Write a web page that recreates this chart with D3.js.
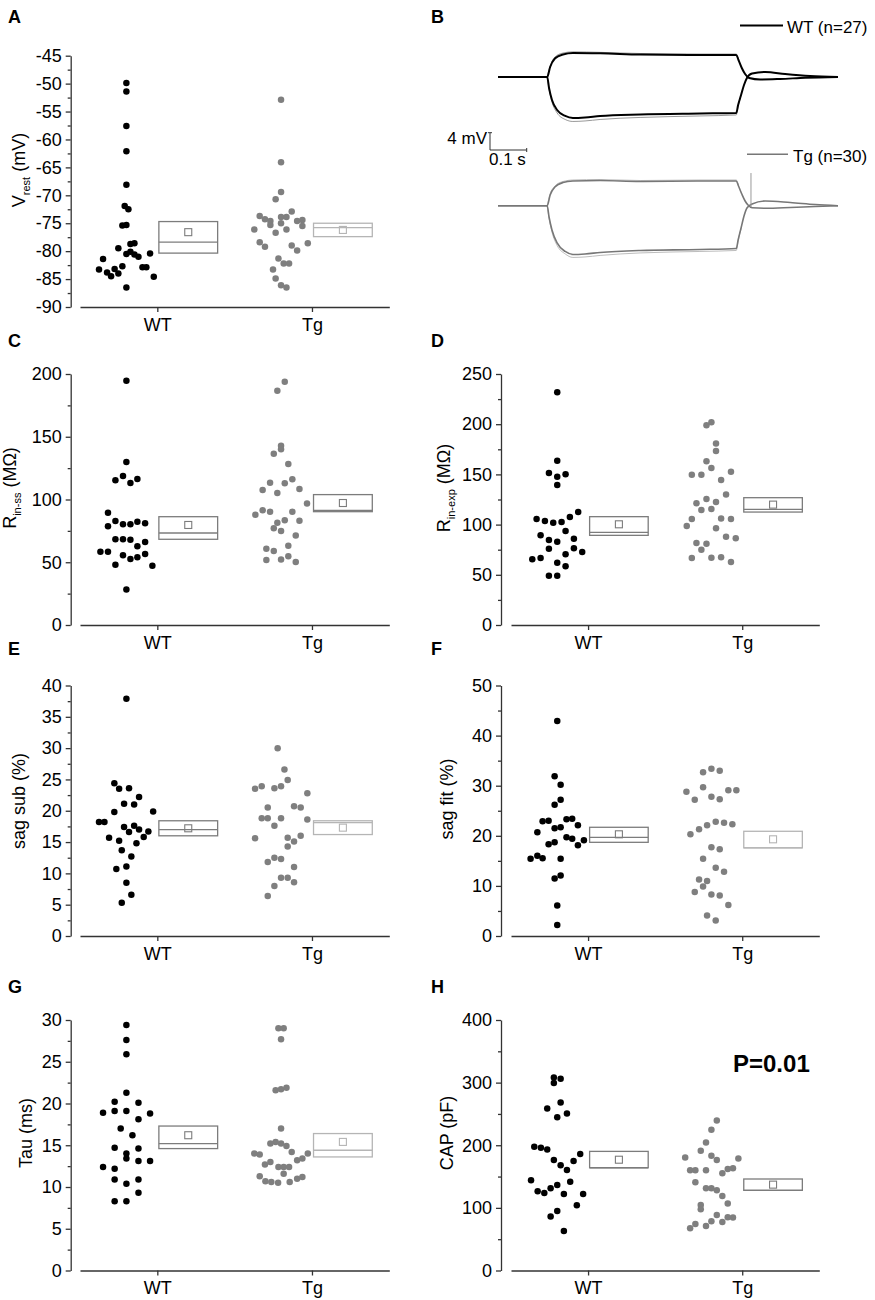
<!DOCTYPE html>
<html><head><meta charset="utf-8">
<script src="https://cdn.jsdelivr.net/npm/d3@7"></script>
<style>body{margin:0;background:#fff}svg{display:block;font-family:"Liberation Sans",Arial,sans-serif}</style>
</head><body><svg id="c" width="875" height="1300"></svg>
<script>
// ---------------- data ----------------
const groups = ["WT", "Tg"];
// dot data: [offset on category axis, value]
const aWT = [[0,-49.9],[0,-51.4],[0,-57.6],[0,-62.1],[0,-68.1],[-0.011,-71.9],[0.013,-72.5],[-0.026,-75.4],[0,-75.3],[-0.052,-79.5],[0.026,-78.7],[0.052,-78.6],[0,-80.5],[0.026,-80.1],[0.052,-80.6],[0.078,-81.0],[0.153,-80.4],[-0.151,-81.4],[-0.026,-82.7],[0.104,-82.9],[0.129,-82.9],[-0.177,-83.3],[-0.125,-83.8],[-0.076,-83.2],[-0.099,-84.5],[-0.052,-84.0],[0.177,-84.6],[0,-86.5]];
const aTg = [[0,-52.9],[0,-64.1],[0,-69.4],[-0.035,-70.7],[0.069,-72.9],[-0.138,-73.7],[-0.104,-74.3],[-0.069,-74.6],[0,-73.9],[0.035,-73.9],[0.104,-74.6],[0.138,-74.4],[-0.069,-75.3],[0,-75.0],[0.138,-75.5],[-0.173,-76.1],[0.035,-76.1],[-0.035,-76.7],[-0.138,-78.4],[-0.104,-79.2],[0.069,-79.0],[0.173,-78.6],[0.104,-79.9],[-0.017,-81.3],[0.017,-82.2],[0.052,-82.2],[-0.052,-83.3],[-0.035,-84.9],[0,-86.1],[0.035,-86.5]];
const cWT = [[0,194.7],[0,129.9],[-0.071,115.3],[-0.022,118.7],[0.026,113.1],[0.071,116.3],[-0.119,89.5],[-0.071,82.9],[-0.119,78.6],[-0.022,80.2],[0.026,80.2],[0.071,82.3],[0.121,81.0],[-0.071,68.3],[-0.022,68.3],[0.026,68.0],[0.071,62.7],[0.121,66.1],[-0.168,58.4],[-0.119,58.4],[-0.022,55.5],[0.026,52.6],[0.071,53.9],[0.121,56.6],[-0.071,48.1],[0.168,47.3],[0,28.2]];
const cTg = [[0.024,193.9],[-0.024,186.7],[0,142.9],[0,140.0],[-0.047,136.5],[0.047,128.3],[0.073,116.1],[-0.071,113.4],[0.024,112.9],[-0.119,107.6],[0.119,108.4],[-0.024,105.2],[0.168,96.9],[-0.166,87.9],[-0.119,91.4],[-0.071,90.3],[0.073,90.3],[-0.024,81.5],[0.024,83.4],[0.119,83.1],[-0.047,77.0],[0,74.9],[0.095,71.4],[-0.095,60.8],[-0.047,59.0],[0.047,63.2],[-0.095,51.8],[0,52.1],[0.047,54.7],[0.095,50.2]];
const dWT = [[0,231.7],[0,163.7],[-0.054,151.4],[0,147.7],[0.054,150.1],[0,139.4],[-0.134,105.6],[-0.080,103.6],[-0.026,101.9],[0.028,102.6],[0.082,107.6],[0.136,112.5],[-0.108,89.3],[0.054,93.6],[-0.054,84.7],[0,83.0],[0.108,86.0],[-0.054,76.0],[0.108,76.4],[0.162,72.7],[-0.162,65.4],[-0.108,66.7],[0,62.1],[0.054,70.4],[0.054,58.4],[-0.054,49.1],[0,49.1]];
const dTg = [[-0.032,198.9],[0,201.9],[0.030,180.9],[0.030,173.3],[-0.032,163.0],[0,156.4],[-0.127,149.7],[-0.065,149.7],[0.127,152.7],[0.063,144.4],[0.095,130.1],[-0.032,125.5],[-0.097,121.2],[0.030,122.5],[-0.065,114.5],[0,115.5],[-0.127,105.6],[0.063,106.2],[0.127,105.6],[-0.160,98.6],[0.030,96.3],[0.095,88.0],[0.158,86.3],[-0.097,81.7],[-0.032,81.0],[-0.065,75.0],[-0.127,66.7],[0,67.1],[0.063,67.4],[0.127,62.7]];
const eWT = [[0,37.9],[-0.078,24.4],[-0.047,23.5],[0.017,23.6],[0.082,22.2],[-0.015,21.1],[0.050,21.0],[-0.078,19.8],[0.173,19.9],[-0.177,18.2],[-0.142,18.2],[-0.015,17.4],[0.050,17.6],[0.017,16.6],[0.082,17.0],[0.142,16.7],[-0.112,15.7],[-0.047,15.2],[0.065,14.8],[0.112,15.8],[-0.030,13.7],[0.032,12.7],[-0.065,10.7],[0,11.1],[0,8.5],[0.032,6.6],[-0.030,5.3]];
const eTg = [[-0.022,30.0],[0.022,26.6],[0.043,24.9],[-0.168,23.5],[-0.125,23.9],[-0.043,23.6],[0,23.9],[0.170,22.8],[-0.086,20.5],[0.084,20.7],[0.127,20.5],[-0.125,18.8],[-0.086,18.8],[0,18.8],[0.170,18.6],[-0.043,17.6],[0.127,16.0],[-0.168,15.6],[0.043,15.7],[0.084,15.1],[0.043,14.3],[-0.043,12.5],[0,12.3],[-0.086,11.8],[0.084,11.0],[0,9.3],[0.043,9.3],[-0.043,8.0],[0.084,8.6],[-0.086,6.4]];
const fWT = [[0,42.9],[-0.017,31.9],[0.022,30.2],[0.022,27.2],[-0.017,26.2],[-0.095,22.9],[-0.056,23.0],[0.060,23.3],[0.097,23.4],[0.134,22.1],[-0.017,21.5],[0.022,21.7],[-0.129,20.7],[0.060,19.7],[0.097,19.4],[0.173,19.1],[-0.056,18.3],[-0.017,18.7],[0.134,18.1],[-0.173,15.4],[-0.129,16.0],[-0.095,15.5],[0.022,15.4],[-0.017,11.5],[0.022,12.1],[0,6.1],[0,2.2]];
const fTg = [[-0.054,32.7],[0,33.4],[0.054,33.0],[-0.162,28.8],[-0.054,29.7],[0.110,29.1],[0.162,29.1],[-0.108,27.2],[0,27.8],[0.054,27.3],[-0.136,20.3],[-0.080,21.3],[-0.028,22.1],[0.028,22.8],[0.082,22.6],[0.136,22.3],[0,17.7],[0.054,17.3],[-0.054,15.4],[0.028,13.6],[0.082,12.8],[-0.080,11.3],[-0.028,11.0],[-0.054,9.9],[-0.108,8.8],[0,8.3],[0.054,8.1],[0.110,6.2],[-0.028,4.1],[0.028,3.1]];
const gWT = [[0,29.4],[0,27.6],[0,25.9],[0,21.3],[-0.076,20.2],[0.078,20.1],[-0.076,19.1],[0,19.1],[-0.151,18.9],[0.153,18.8],[0.078,18.1],[-0.037,17.0],[0.039,16.2],[-0.076,14.7],[0.078,14.6],[0,14.0],[0,13.4],[0.078,13.1],[0.153,13.1],[-0.151,12.4],[-0.076,12.2],[-0.076,10.9],[0.078,10.9],[0,10.4],[0.078,9.3],[-0.076,8.3],[0,8.3]];
const gTg = [[-0.017,29.0],[0.017,29.0],[0,27.7],[-0.035,21.6],[0,21.7],[0.035,21.9],[0,17.0],[-0.035,15.4],[-0.069,15.2],[0,15.2],[0.035,14.9],[-0.173,14.0],[-0.138,13.9],[0.069,14.2],[0.173,14.0],[0.104,13.2],[0.138,13.4],[-0.069,13.0],[-0.104,12.7],[-0.017,12.4],[0.017,12.4],[0.052,12.4],[0.017,11.6],[-0.138,11.3],[0.104,11.0],[0.138,11.2],[-0.101,10.7],[-0.063,10.6],[-0.019,10.5],[0.056,10.6]];
const hWT = [[-0.022,308.1],[0.022,306.0],[-0.022,299.6],[0.022,268.3],[-0.065,258.7],[0.063,250.7],[0,244.9],[-0.149,197.6],[-0.106,196.0],[-0.065,193.4],[0.149,185.9],[-0.022,176.4],[0.106,174.8],[0.022,167.9],[0.063,160.4],[-0.170,144.0],[0.084,141.8],[0,136.5],[-0.043,131.2],[-0.127,126.4],[-0.084,123.8],[0.043,122.2],[0.168,122.2],[0.127,104.1],[0,95.1],[-0.043,86.1],[0.043,63.2]];
const hTg = [[0.035,239.6],[0,224.7],[-0.035,204.5],[-0.069,191.2],[0,183.3],[0.035,176.4],[-0.170,180.6],[0.175,179.0],[-0.138,159.9],[-0.104,159.9],[-0.035,159.9],[0.071,155.1],[0.106,162.0],[0.140,163.1],[-0.104,140.8],[-0.035,131.2],[0,131.2],[0.035,128.0],[0.071,119.0],[0.106,106.8],[-0.069,104.6],[-0.069,97.7],[0.035,88.7],[-0.138,67.5],[-0.104,74.4],[-0.035,71.2],[0,78.6],[0.071,77.6],[0.106,85.0],[0.140,84.5]];
// box summaries per group: [q1, median, q3, mean]
const aBox = [[-80.35,-78.4,-74.7,-76.6],[-77.4,-75.8,-75.0,-76.2]];
const cBox = [[68.3,73.3,86.3,79.7],[90.3,91.3,103.9,97.2]];
const dBox = [[89.3,92.3,107.9,100.3],[112.5,115.2,126.8,119.9]];
const eBox = [[16.0,17.0,18.4,17.2],[16.2,18.1,18.4,17.3]];
const fBox = [[18.7,19.7,21.7,20.3],[17.6,17.6,20.9,19.3]];
const gBox = [[14.6,15.2,17.3,16.2],[13.6,14.4,16.4,15.4]];
const hBox = [[164.1,164.1,190.2,176.9],[128.0,128.0,146.1,137.1]];
// panel B traces: [time (s), mV relative to baseline]
const wtUp = [[0,0],[0.134,0],[0.142,2.31],[0.155,4.27],[0.177,5.20],[0.204,5.54],[0.278,5.47],[0.387,5.20],[0.550,5.08],[0.649,5.08],[0.655,3.93],[0.664,2.08],[0.673,0.69],[0.684,-0.23],[0.714,-0.58],[0.768,-0.46],[0.837,-0.18],[0.926,0]];
const wtUpSem = [[0.134,0],[0.142,2.54],[0.155,4.62],[0.177,5.54],[0.204,5.82],[0.278,5.70],[0.387,5.43],[0.550,5.31],[0.649,5.31],[0.655,4.16]];
const wtDown = [[0,0],[0.134,0],[0.139,-2.54],[0.147,-5.31],[0.161,-7.62],[0.183,-9.01],[0.204,-9.47],[0.237,-9.35],[0.278,-9.01],[0.387,-8.66],[0.550,-8.43],[0.649,-8.31],[0.654,-6.47],[0.662,-4.16],[0.670,-1.85],[0.678,-0.23],[0.692,0.81],[0.728,1.15],[0.782,0.69],[0.850,0.23],[0.926,0]];
const wtDownSem = [[0.134,0],[0.139,-2.77],[0.147,-5.77],[0.161,-8.31],[0.183,-9.82],[0.204,-10.28],[0.237,-10.16],[0.278,-9.82],[0.387,-9.35],[0.550,-9.01],[0.649,-8.78],[0.654,-6.70],[0.662,-4.27]];
const tgUp = [[0,0],[0.134,0],[0.142,2.47],[0.155,4.32],[0.177,5.36],[0.204,5.70],[0.278,5.82],[0.387,5.59],[0.550,5.70],[0.649,5.70],[0.655,4.55],[0.664,2.70],[0.673,1.09],[0.681,0.16],[0.692,-0.48],[0.728,-0.60],[0.796,-0.42],[0.864,-0.18],[0.926,0]];
const tgUpSem = [[0.134,0],[0.142,2.70],[0.155,4.55],[0.177,5.59],[0.204,5.94],[0.278,6.05],[0.387,5.82],[0.550,5.94],[0.649,5.94],[0.655,4.78]];
const tgDown = [[0,0],[0.134,0],[0.139,-2.61],[0.147,-5.61],[0.161,-8.61],[0.183,-10.58],[0.204,-11.27],[0.237,-11.15],[0.278,-10.81],[0.387,-10.35],[0.550,-10.12],[0.649,-9.88],[0.654,-7.92],[0.662,-5.15],[0.670,-2.38],[0.678,-0.53],[0.692,0.39],[0.728,1.09],[0.796,0.74],[0.864,0.28],[0.926,0]];
const tgDownSem = [[0.134,0],[0.139,-2.84],[0.147,-6.07],[0.161,-9.19],[0.183,-11.15],[0.204,-11.96],[0.237,-11.85],[0.278,-11.50],[0.387,-10.92],[0.550,-10.58],[0.649,-10.35],[0.654,-8.15],[0.662,-5.27]];
const tgSpike = [[0.689,-0.30],[0.689,7.55]];
const legendLabels = ["WT (n=27)", "Tg (n=30)"];
const scaleBar = {mV: 4, s: 0.1};
const pText = "P=0.01";

// ---------------- drawing ----------------
const svg = d3.select("#c");
const AX = "#333", DARKBOX = "#7c7c7c", LIGHTBOX = "#b5b5b5", TG = "#7f7f7f";
const cols = [{ax:70.7, x0:80, x1:389.3, lab:8}, {ax:501, x0:511, x1:819.3, lab:431}];
const rows = [[55.7,307],[374,625],[685.5,936],[1020,1270.5]];
const labY = [22.5, 346.5, 655, 993];

const panels = [
  {id:"A", col:0, row:0, dom:[-90,-45], step:5, wt:aWT, tg:aTg, box:aBox, tgBox:LIGHTBOX, title:[["V",18,0],["rest",11,5],[" (mV)",18,-5]], tx:25, ty:170},
  {id:"C", col:0, row:1, dom:[0,200], step:50, wt:cWT, tg:cTg, box:cBox, tgBox:DARKBOX, title:[["R",18,0],["in-ss",11,5],[" (MΩ)",18,-5]], tx:16, ty:488},
  {id:"D", col:1, row:1, dom:[0,250], step:50, wt:dWT, tg:dTg, box:dBox, tgBox:DARKBOX, title:[["R",18,0],["in-exp",11,5],[" (MΩ)",18,-5]], tx:450, ty:488},
  {id:"E", col:0, row:2, dom:[0,40], step:5, wt:eWT, tg:eTg, box:eBox, tgBox:LIGHTBOX, title:[["sag sub (%)",18,0]], tx:25, ty:801},
  {id:"F", col:1, row:2, dom:[0,50], step:10, wt:fWT, tg:fTg, box:fBox, tgBox:LIGHTBOX, title:[["sag fit (%)",18,0]], tx:453, ty:799},
  {id:"G", col:0, row:3, dom:[0,30], step:5, wt:gWT, tg:gTg, box:gBox, tgBox:LIGHTBOX, title:[["Tau (ms)",18,0]], tx:31.5, ty:1133},
  {id:"H", col:1, row:3, dom:[0,400], step:100, wt:hWT, tg:hTg, box:hBox, tgBox:DARKBOX, title:[["CAP (pF)",18,0]], tx:453, ty:1133}
];

function styleAxis(g){
  g.selectAll("path,line").attr("stroke", AX).attr("stroke-width", 1.3);
  g.selectAll("text").attr("fill", "#000").attr("font-size", 18);
}

panels.forEach(p => {
  const c = cols[p.col], r = rows[p.row];
  const x = d3.scaleLinear().domain([0.5, 2.5]).range([c.x0, c.x1]);
  const y = d3.scaleLinear().domain(p.dom).range([r[1], r[0]]);
  const g = svg.append("g");
  const major = d3.range(p.dom[0], p.dom[1] + p.step/2, p.step);
  const minor = d3.range(p.dom[0] + p.step/2, p.dom[1], p.step);
  const ya = g.append("g").attr("transform", `translate(${c.ax},0)`)
    .call(d3.axisLeft(y).tickValues(major).tickFormat(d => String(d)).tickSize(5).tickSizeOuter(0).tickPadding(4));
  styleAxis(ya);
  const ym = g.append("g").attr("transform", `translate(${c.ax},0)`)
    .call(d3.axisLeft(y).tickValues(minor).tickFormat("").tickSize(3).tickSizeOuter(0));
  styleAxis(ym);
  ym.select(".domain").remove();
  const xa = g.append("g").attr("transform", `translate(0,${r[1]})`)
    .call(d3.axisBottom(x).tickValues([1,2]).tickFormat(d => groups[d-1]).tickSize(5).tickSizeOuter(0).tickPadding(6));
  styleAxis(xa);
  const t = g.append("text").attr("transform", `translate(${p.tx},${p.ty}) rotate(-90)`)
    .attr("text-anchor", "middle").attr("fill", "#000");
  p.title.forEach(s => t.append("tspan").text(s[0]).attr("font-size", s[1]).attr("dy", s[2]));
  svg.append("text").attr("x", c.lab).attr("y", labY[p.row]).text(p.id)
    .attr("font-size", 18).attr("font-weight", "bold").attr("fill", "#000");
  [[p.wt, "#000"], [p.tg, TG]].forEach((set, gi) => {
    g.append("g").selectAll("circle").data(set[0]).join("circle")
      .attr("cx", d => x(gi + 1 - 0.2 + d[0])).attr("cy", d => y(d[1]))
      .attr("r", 3.25).attr("fill", set[1]);
  });
  p.box.forEach((b, gi) => {
    const col = gi === 0 ? DARKBOX : p.tgBox;
    const cx = gi + 1 + 0.2;
    const xl = x(cx - 0.19), xr = x(cx + 0.19);
    const bg = g.append("g").attr("fill", "none").attr("stroke", col).attr("stroke-width", 1.3);
    bg.append("rect").attr("x", xl).attr("y", y(b[2])).attr("width", xr - xl).attr("height", y(b[0]) - y(b[2]));
    bg.append("line").attr("x1", xl).attr("x2", xr).attr("y1", y(b[1])).attr("y2", y(b[1]));
    bg.append("rect").attr("x", x(cx) - 3.5).attr("y", y(b[3]) - 3.5).attr("width", 7).attr("height", 7).attr("stroke-width", 1.1);
  });
});

svg.append("text").attr("x", 733).attr("y", 1071.5).text(pText)
  .attr("font-size", 24).attr("font-weight", "bold").attr("fill", "#000");

// ---------------- panel B ----------------
const xT = d3.scaleLinear().domain([0, 0.926]).range([498, 838]);
const yW = d3.scaleLinear().domain([-10, 10]).range([77 + 43.25, 77 - 43.25]);
const yG = d3.scaleLinear().domain([-10, 10]).range([205.7 + 43.25, 205.7 - 43.25]);
svg.append("text").attr("x", 431).attr("y", 22.5).text("B")
  .attr("font-size", 18).attr("font-weight", "bold").attr("fill", "#000");

function trace(data, ys, color, w){
  const line = d3.line().x(d => xT(d[0])).y(d => ys(d[1])).curve(d3.curveMonotoneX);
  svg.append("path").attr("d", line(data)).attr("fill", "none")
    .attr("stroke", color).attr("stroke-width", w).attr("stroke-linejoin", "round");
}
trace(wtUpSem, yW, "#9a9a9a", 1);
trace(wtDownSem, yW, "#9a9a9a", 1);
trace(wtUp, yW, "#000", 2);
trace(wtDown, yW, "#000", 2);
trace(tgUpSem, yG, "#bdbdbd", 1);
trace(tgDownSem, yG, "#bdbdbd", 1);
trace(tgUp, yG, "#777", 1.6);
trace(tgDown, yG, "#777", 1.6);
svg.append("path").attr("d", d3.line().x(d => xT(d[0])).y(d => yG(d[1]))(tgSpike))
  .attr("stroke", "#999").attr("stroke-width", 1).attr("fill", "none");

svg.append("line").attr("x1", 740).attr("x2", 783).attr("y1", 25.5).attr("y2", 25.5).attr("stroke", "#000").attr("stroke-width", 1.8);
svg.append("text").attr("x", 787).attr("y", 33).text(legendLabels[0]).attr("font-size", 17).attr("fill", "#000");
svg.append("line").attr("x1", 747).attr("x2", 788).attr("y1", 154.3).attr("y2", 154.3).attr("stroke", "#777").attr("stroke-width", 1.5);
svg.append("text").attr("x", 793).attr("y", 162).text(legendLabels[1]).attr("font-size", 17).attr("fill", "#000");

const sbx = 490, sby = 150;
const sbh = yW(0) - yW(scaleBar.mV), sbw = xT(scaleBar.s) - xT(0);
const sb = svg.append("g").attr("stroke", AX).attr("stroke-width", 1).attr("fill", "none");
sb.append("path").attr("d", `M${sbx},${sby - sbh}V${sby}H${sbx + sbw}`);
sb.append("path").attr("d", `M${sbx - 2},${sby - sbh}H${sbx + 2}M${sbx + sbw},${sby - 2}V${sby + 2}`);
svg.append("text").attr("x", 487).attr("y", 143.5).attr("text-anchor", "end").text(scaleBar.mV + " mV").attr("font-size", 17).attr("fill", "#000");
svg.append("text").attr("x", 489).attr("y", 165).text(scaleBar.s + " s").attr("font-size", 17).attr("fill", "#000");
</script></body></html>
